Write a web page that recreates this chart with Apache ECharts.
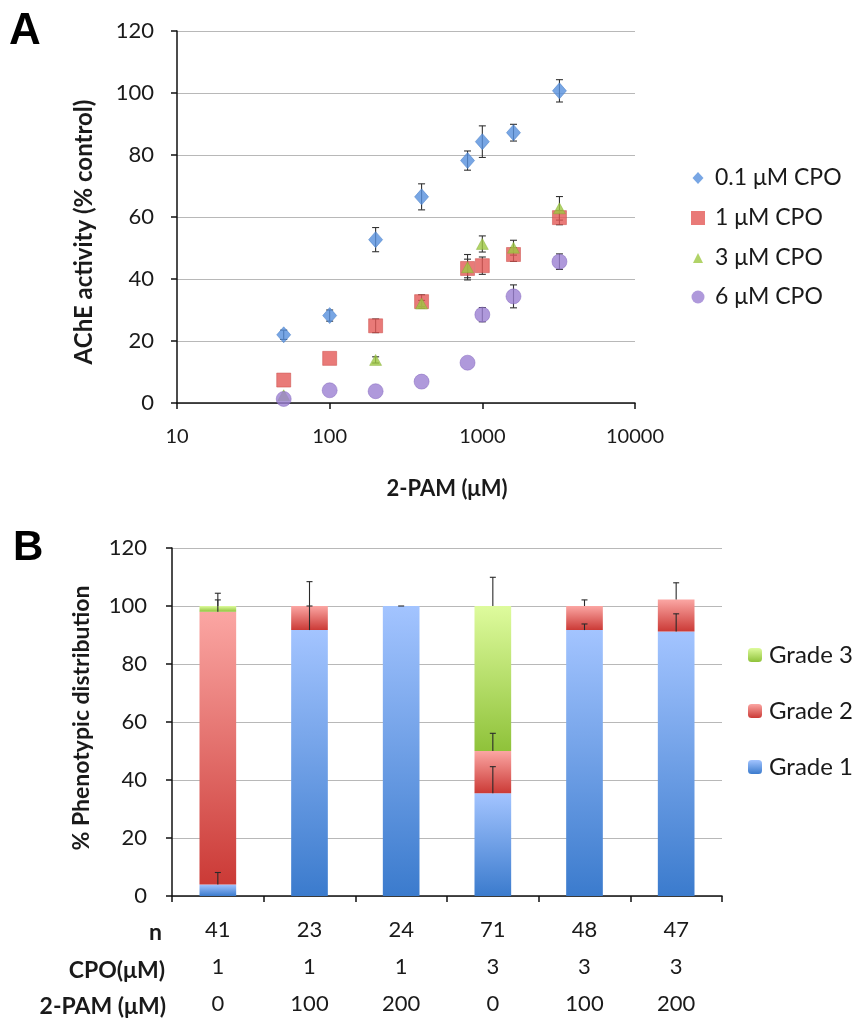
<!DOCTYPE html>
<html>
<head>
<meta charset="utf-8">
<script src="https://cdn.jsdelivr.net/npm/echarts@6/dist/echarts.min.js"></script>
<style>
html,body{margin:0;padding:0;background:#fff;}
#c{width:853px;height:1021px;}
</style>
</head>
<body>
<div id="c"></div>
<script>
// ---------- Panel A data ----------
const doses = [50, 100, 200, 400, 800, 1000, 1600, 3200];
const cpo01 = [22, 28.2, 52.7, 66.5, 78.2, 84.3, 87.2, 100.7];
const cpo01Err = [1.5, 1.8, 3.9, 4.2, 3.1, 5.1, 2.7, 3.6];
const cpo1 = [7.4, 14.4, 24.9, 32.7, 43.4, 44.3, 47.9, 59.8];
const cpo1Err = [0, 0, 2.2, 2.2, 3, 2.8, 2.2, 2.3];
const cpo3 = [2.5, null, 13.9, 32.1, 43.8, 51.3, 50.1, 62.8];
const cpo3Err = [0, 0, 1, 1, 4.1, 2.6, 2.4, 3.8];
const cpo6 = [1.3, 4.1, 3.8, 6.9, 13.0, 28.5, 34.4, 45.6];
const cpo6Err = [0, 0, 0, 0, 0, 2.3, 3.7, 2.5];
const seriesNamesA = ['0.1 μM CPO', '1 μM CPO', '3 μM CPO', '6 μM CPO'];
const xTicksA = [10, 100, 1000, 10000];

// ---------- Panel B data ----------
const nVals = ['41', '23', '24', '71', '48', '47'];
const cpoVals = ['1', '1', '1', '3', '3', '3'];
const pamVals = ['0', '100', '200', '0', '100', '200'];
const grade1 = [4, 91.7, 100, 35.4, 91.7, 91.2];
const grade1Err = [4.1, 8.3, 0, 9.2, 2.1, 6.1];
const grade2 = [94, 8.3, 0, 14.6, 8.3, 11];
const grade2Err = [4.1, 8.4, 0, 6.1, 2.1, 5.8];
const grade3 = [2, 0, 0, 50, 0, 0];
const grade3Err = [4.4, 0, 0, 9.9, 0, 0];
const gradeNames = ['Grade 1', 'Grade 2', 'Grade 3'];
const rowHeaders = ['n', 'CPO(μM)', '2-PAM (μM)'];

const FONT = 'Lato, "Open Sans", sans-serif';
const TXT = '#1a1a1a';

function pts(vals) {
  return doses.map((d, i) => vals[i] == null ? null : [d, vals[i]]).filter(Boolean);
}
function errPts(vals, errs) {
  return doses.map((d, i) => vals[i] == null ? null : [d, vals[i], errs[i]]).filter(Boolean);
}
function errRenderA(params, api) {
  const x = api.value(0), y = api.value(1), e = api.value(2);
  if (!e) return null;
  const t = api.coord([x, y + e]), b = api.coord([x, y - e]);
  const w = 3.5;
  const st = { stroke: '#333', lineWidth: 1.1 };
  return { type: 'group', children: [
    { type: 'line', shape: { x1: t[0], y1: t[1], x2: b[0], y2: b[1] }, style: st },
    { type: 'line', shape: { x1: t[0] - w, y1: t[1], x2: t[0] + w, y2: t[1] }, style: st },
    { type: 'line', shape: { x1: b[0] - w, y1: b[1], x2: b[0] + w, y2: b[1] }, style: st }
  ]};
}
function errRenderB(params, api) {
  const x = api.value(0), y = api.value(1), e = api.value(2);
  const b = api.coord([x, y]), t = api.coord([x, y + e]);
  const w = 3;
  const st = { stroke: '#2a2a2a', lineWidth: 1.1 };
  const ch = [{ type: 'line', shape: { x1: t[0] - w, y1: t[1], x2: t[0] + w, y2: t[1] }, style: st }];
  if (e) ch.push({ type: 'line', shape: { x1: b[0], y1: b[1], x2: t[0], y2: t[1] }, style: st });
  return { type: 'group', children: ch };
}
const errB = [];
for (let i = 0; i < nVals.length; i++) {
  let top = 0;
  [[grade1, grade1Err], [grade2, grade2Err], [grade3, grade3Err]].forEach(([v, e]) => {
    if (v[i] > 0) { top += v[i]; errB.push([i, top, e[i]]); }
  });
}
function grad(top, bottom) {
  return new echarts.graphic.LinearGradient(0, 0, 0, 1, [
    { offset: 0, color: top }, { offset: 1, color: bottom }
  ]);
}
function legendEntry(name, cx, cy, w, h, textStart, fs) {
  return {
    orient: 'vertical', padding: 0, left: cx - w / 2, top: cy - 12,
    itemWidth: w, itemHeight: h, data: [name],
    itemStyle: { borderWidth: 0 },
    textStyle: { fontSize: fs, color: TXT, fontFamily: FONT, lineHeight: 24,
      padding: [0, 0, 0, Math.max(0, textStart - (cx + w / 2 + 5))] }
  };
}

const chart = echarts.init(document.getElementById('c'), null, { renderer: 'canvas' });
const axisLineStyle = { color: '#111', width: 1.5 };
const option = {
  animation: false,
  backgroundColor: '#fff',
  textStyle: { fontFamily: FONT },
  grid: [
    { left: 177, top: 31, width: 458, height: 372, outerBoundsMode: 'none', containLabel: false },
    { left: 172, top: 548, width: 550, height: 348, outerBoundsMode: 'none', containLabel: false }
  ],
  xAxis: [
    { gridIndex: 0, type: 'log', logBase: 10, min: 10, max: 10000,
      axisLine: { show: true, lineStyle: axisLineStyle },
      axisTick: { show: true, length: 6, lineStyle: axisLineStyle },
      minorTick: { show: false }, splitLine: { show: false },
      axisLabel: { fontSize: 20, color: TXT, fontFamily: FONT, margin: 24,
        formatter: v => xTicksA.includes(Math.round(v)) ? String(Math.round(v)) : '' } },
    { gridIndex: 1, type: 'category', data: nVals,
      axisLine: { show: true, lineStyle: axisLineStyle },
      axisTick: { show: true, length: 6, lineStyle: axisLineStyle, alignWithLabel: false },
      axisLabel: { fontSize: 22, color: TXT, fontFamily: FONT, margin: 15, lineHeight: 37,
        formatter: (v, i) => nVals[i] + '\n' + cpoVals[i] + '\n' + pamVals[i] } }
  ],
  yAxis: [
    { gridIndex: 0, type: 'value', min: 0, max: 120, interval: 20,
      axisLine: { show: true, lineStyle: axisLineStyle },
      axisTick: { show: true, length: 6, lineStyle: axisLineStyle },
      splitLine: { show: true, lineStyle: { color: '#b8b8b8', width: 1.2 } },
      axisLabel: { fontSize: 22, color: TXT, fontFamily: FONT, margin: 23 } },
    { gridIndex: 1, type: 'value', min: 0, max: 120, interval: 20,
      axisLine: { show: true, lineStyle: axisLineStyle },
      axisTick: { show: true, length: 6, lineStyle: axisLineStyle },
      splitLine: { show: true, lineStyle: { color: '#b8b8b8', width: 1.2 } },
      axisLabel: { fontSize: 22, color: TXT, fontFamily: FONT, margin: 25 } }
  ],
  legend: [
    legendEntry(seriesNamesA[0], 698, 178, 11, 12, 715, 23),
    legendEntry(seriesNamesA[1], 698, 218, 14, 14, 715, 23),
    legendEntry(seriesNamesA[2], 698, 258, 10, 10, 715, 23),
    legendEntry(seriesNamesA[3], 698, 297, 13, 13, 715, 23),
    legendEntry(gradeNames[2], 755, 655, 14, 14, 769, 24),
    legendEntry(gradeNames[1], 755, 711, 14, 14, 769, 24),
    legendEntry(gradeNames[0], 755, 767, 14, 14, 769, 24)
  ],
  graphic: [
    { type: 'text', left: 9, top: 10, style: { text: 'A', font: 'bold 44px "Liberation Sans", Arial, sans-serif', fill: '#000' } },
    { type: 'text', left: 13, top: 527, style: { text: 'B', font: 'bold 42px "Liberation Sans", Arial, sans-serif', fill: '#000' } },
    { type: 'text', x: 84, y: 232, rotation: Math.PI / 2,
      style: { text: 'AChE activity (% control)', font: 'bold 24px ' + FONT, fill: TXT, textAlign: 'center', textVerticalAlign: 'middle' } },
    { type: 'text', x: 447, y: 489,
      style: { text: '2-PAM (μM)', font: 'bold 22px ' + FONT, fill: TXT, textAlign: 'center', textVerticalAlign: 'middle' } },
    { type: 'text', x: 82, y: 718, rotation: Math.PI / 2,
      style: { text: '% Phenotypic distribution', font: 'bold 23px ' + FONT, fill: TXT, textAlign: 'center', textVerticalAlign: 'middle' } },
    { type: 'text', x: 162, y: 933, style: { text: rowHeaders[0], font: 'bold 23px ' + FONT, fill: TXT, textAlign: 'right', textVerticalAlign: 'middle' } },
    { type: 'text', x: 165, y: 971, style: { text: rowHeaders[1], font: 'bold 23px ' + FONT, fill: TXT, textAlign: 'right', textVerticalAlign: 'middle' } },
    { type: 'text', x: 166, y: 1007, style: { text: rowHeaders[2], font: 'bold 23px ' + FONT, fill: TXT, textAlign: 'right', textVerticalAlign: 'middle' } }
  ],
  series: [
    { type: 'custom', xAxisIndex: 0, yAxisIndex: 0, z: 1, renderItem: errRenderA, data: errPts(cpo01, cpo01Err) },
    { type: 'custom', xAxisIndex: 0, yAxisIndex: 0, z: 1, renderItem: errRenderA, data: errPts(cpo1, cpo1Err) },
    { type: 'custom', xAxisIndex: 0, yAxisIndex: 0, z: 1, renderItem: errRenderA, data: errPts(cpo3, cpo3Err) },
    { type: 'custom', xAxisIndex: 0, yAxisIndex: 0, z: 1, renderItem: errRenderA, data: errPts(cpo6, cpo6Err) },
    { name: seriesNamesA[0], type: 'scatter', xAxisIndex: 0, yAxisIndex: 0, z: 3, symbol: 'diamond', symbolSize: [14, 16],
      itemStyle: { color: '#5690dd', borderColor: '#3f78c4', borderWidth: 0.6 }, data: pts(cpo01) },
    { name: seriesNamesA[1], type: 'scatter', xAxisIndex: 0, yAxisIndex: 0, z: 4, symbol: 'rect', symbolSize: 14,
      itemStyle: { color: '#e35956', borderColor: '#c84440', borderWidth: 0.6 }, data: pts(cpo1) },
    { name: seriesNamesA[2], type: 'scatter', xAxisIndex: 0, yAxisIndex: 0, z: 5, symbol: 'triangle', symbolSize: [12, 11],
      itemStyle: { color: '#9dc842', borderColor: '#80ab2c', borderWidth: 0.5 }, data: pts(cpo3) },
    { name: seriesNamesA[3], type: 'scatter', xAxisIndex: 0, yAxisIndex: 0, z: 6, symbol: 'circle', symbolSize: 15,
      itemStyle: { color: '#9b80d2', borderColor: '#8064bb', borderWidth: 0.6 }, data: pts(cpo6) },
    { name: gradeNames[0], type: 'bar', xAxisIndex: 1, yAxisIndex: 1, stack: 'g', barWidth: '40%',
      itemStyle: { color: grad('#a3c4ff', '#3b7bcd') }, data: grade1 },
    { name: gradeNames[1], type: 'bar', xAxisIndex: 1, yAxisIndex: 1, stack: 'g', barWidth: '40%',
      itemStyle: { color: grad('#fba6a3', '#cb3a36') }, data: grade2 },
    { name: gradeNames[2], type: 'bar', xAxisIndex: 1, yAxisIndex: 1, stack: 'g', barWidth: '40%',
      itemStyle: { color: grad('#defb9d', '#8fc23a') }, data: grade3 },
    { type: 'custom', xAxisIndex: 1, yAxisIndex: 1, z: 10, renderItem: errRenderB, data: errB }
  ]
};
chart.setOption(option);
</script>
</body>
</html>
